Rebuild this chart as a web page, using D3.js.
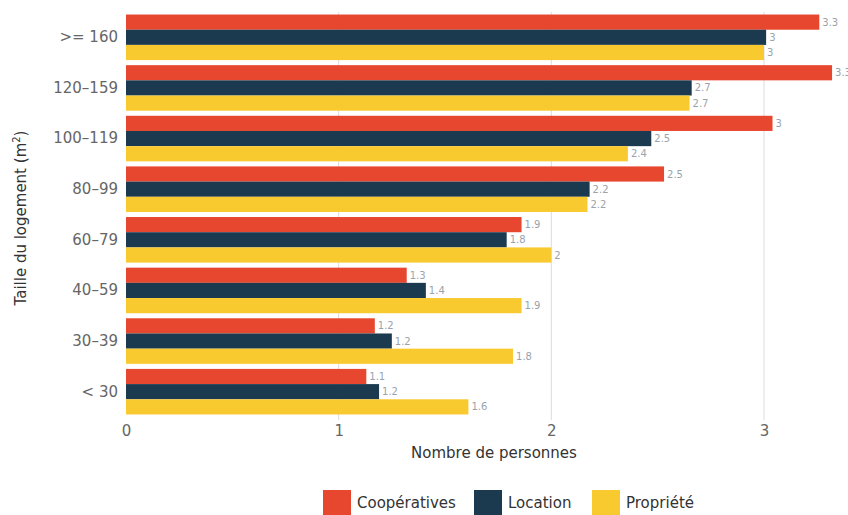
<!DOCTYPE html>
<html>
<head>
<meta charset="utf-8">
<script src="https://cdn.jsdelivr.net/npm/d3@7"></script>
<style>
  body { margin: 0; background: #fff; }
  svg { display: block; font-family: "DejaVu Sans", Verdana, sans-serif; }
</style>
</head>
<body>
<svg width="848" height="515"></svg>
<script>
var categories = [">= 160", "120\u2013159", "100\u2013119", "80\u201399", "60\u201379", "40\u201359", "30\u201339", "< 30"];
var series = ["Coop\u00e9ratives", "Location", "Propri\u00e9t\u00e9"];
var colors = ["#e8472f", "#1c3a4f", "#f9ca30"];

// valeurs des barres
var cooperatives = [3.26, 3.32, 3.04, 2.53, 1.86, 1.32, 1.17, 1.13];
var location_ = [3.01, 2.66, 2.47, 2.18, 1.79, 1.41, 1.25, 1.19];
var propriete = [3.0, 2.65, 2.36, 2.17, 2.0, 1.86, 1.82, 1.61];

// libellés affichés à droite des barres
var labCoop = ["3.3", "3.3", "3", "2.5", "1.9", "1.3", "1.2", "1.1"];
var labLoc = ["3", "2.7", "2.5", "2.2", "1.8", "1.4", "1.2", "1.2"];
var labProp = ["3", "2.7", "2.4", "2.2", "2", "1.9", "1.8", "1.6"];

var xTicks = [0, 1, 2, 3];

var values = [cooperatives, location_, propriete];
var labels = [labCoop, labLoc, labProp];

var svg = d3.select("svg");

var x = d3.scaleLinear()
  .domain([0, 3])
  .range([126, 764]);

var y = d3.scaleBand()
  .domain(categories)
  .range([12, 417])
  .paddingInner(0.1)
  .paddingOuter(0.05);

var ySub = d3.scaleBand()
  .domain(series)
  .range([0, y.bandwidth()]);

// grille verticale
svg.append("g")
  .selectAll("line")
  .data(xTicks.slice(1))
  .enter()
  .append("line")
  .attr("x1", function(d) { return x(d); })
  .attr("x2", function(d) { return x(d); })
  .attr("y1", 12)
  .attr("y2", 420)
  .attr("stroke", "#dcdcdc")
  .attr("stroke-width", 1);

// barres
var groups = svg.append("g")
  .selectAll("g")
  .data(categories)
  .enter()
  .append("g")
  .attr("transform", function(d) { return "translate(0," + y(d) + ")"; });

series.forEach(function(s, si) {
  groups.append("rect")
    .attr("x", x(0))
    .attr("y", ySub(s))
    .attr("height", ySub.bandwidth())
    .attr("width", function(d, i) { return x(values[si][i]) - x(0); })
    .attr("fill", colors[si]);

  groups.append("text")
    .attr("x", function(d, i) { return x(values[si][i]) + 3; })
    .attr("y", ySub(s) + ySub.bandwidth() / 2)
    .attr("dy", "0.35em")
    .attr("font-size", 10)
    .attr("fill", "#9aa3ab")
    .text(function(d, i) { return labels[si][i]; });
});

// axe x
var xAxis = d3.axisBottom(x)
  .tickValues(xTicks)
  .tickFormat(d3.format("d"))
  .tickSize(0)
  .tickPadding(3);

svg.append("g")
  .attr("transform", "translate(0,422)")
  .call(xAxis)
  .call(function(g) { g.select(".domain").remove(); })
  .selectAll("text")
  .attr("font-size", 15)
  .attr("fill", "#666")
  .attr("font-family", "DejaVu Sans, Verdana, sans-serif");

// axe y
var yAxis = d3.axisLeft(y)
  .tickSize(0)
  .tickPadding(8);

svg.append("g")
  .attr("transform", "translate(126,0)")
  .call(yAxis)
  .call(function(g) { g.select(".domain").remove(); })
  .selectAll("text")
  .attr("font-size", 15)
  .attr("fill", "#666")
  .attr("font-family", "DejaVu Sans, Verdana, sans-serif");

// titres des axes
svg.append("text")
  .attr("x", 494)
  .attr("y", 458)
  .attr("text-anchor", "middle")
  .attr("font-size", 15)
  .attr("fill", "#333")
  .text("Nombre de personnes");

var yTitle = svg.append("text")
  .attr("transform", "translate(26,218) rotate(-90)")
  .attr("text-anchor", "middle")
  .attr("font-size", 15)
  .attr("fill", "#333");
yTitle.append("tspan").text("Taille du logement  (m");
yTitle.append("tspan").attr("font-size", 10).attr("dy", -6).text("2");
yTitle.append("tspan").attr("dy", 6).text(")");

// légende
var legendX = [323, 474, 592];
var legend = svg.append("g")
  .selectAll("g")
  .data(series)
  .enter()
  .append("g")
  .attr("transform", function(d, i) { return "translate(" + legendX[i] + ",490)"; });

legend.append("rect")
  .attr("width", 28)
  .attr("height", 26)
  .attr("fill", function(d, i) { return colors[i]; });

legend.append("text")
  .attr("x", 34)
  .attr("y", 13)
  .attr("dy", "0.35em")
  .attr("font-size", 15)
  .attr("fill", "#333")
  .text(function(d) { return d; });
</script>
</body>
</html>
